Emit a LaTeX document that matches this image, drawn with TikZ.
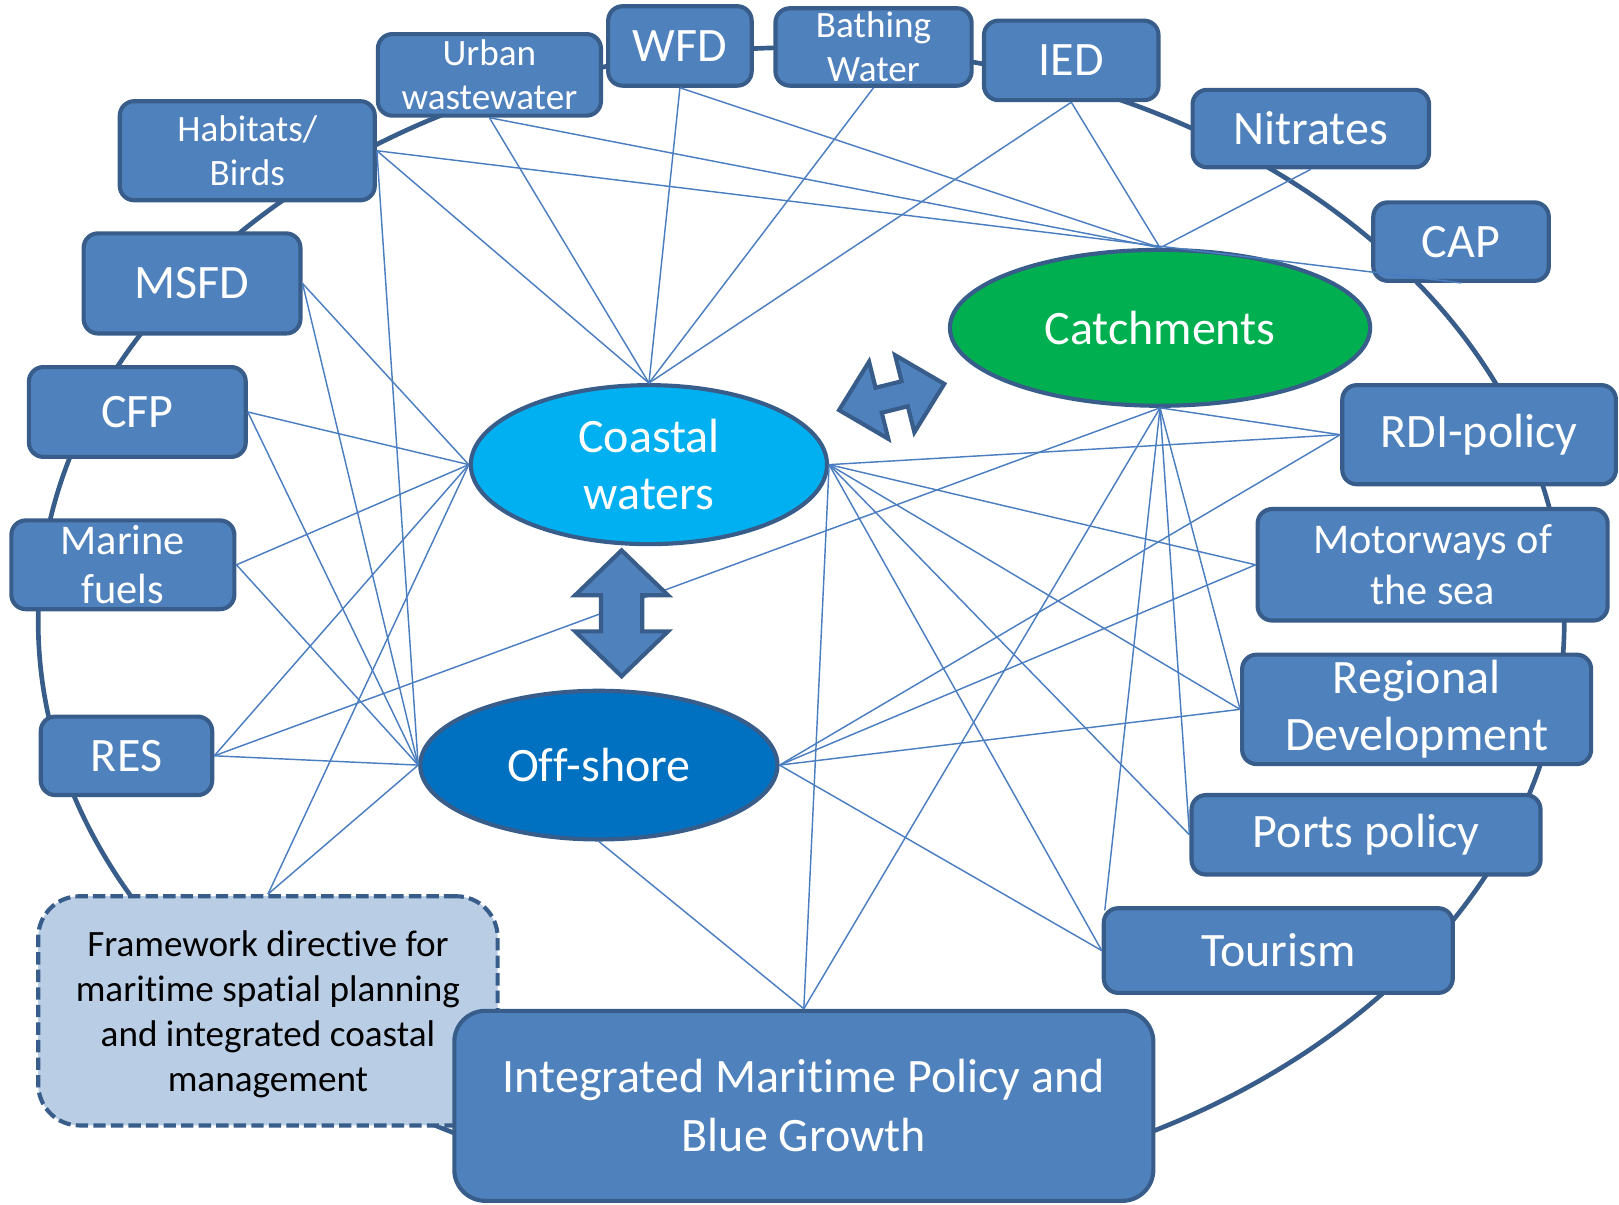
\documentclass[tikz,border=0pt]{standalone}
\usepackage{fontspec}
\setmainfont{Carlito}[Ligatures=NoCommon]
\usetikzlibrary{calc,shapes.geometric}
\definecolor{boxblue}{RGB}{79,129,189}
\definecolor{boxedge}{RGB}{56,93,138}
\definecolor{linkblue}{RGB}{74,126,193}
\definecolor{catchgreen}{RGB}{0,176,80}
\definecolor{coastblue}{RGB}{0,176,240}
\definecolor{offblue}{RGB}{0,112,192}
\definecolor{framefill}{RGB}{185,205,229}
\tikzset{
  ring/.style={draw=boxedge, line width=4.5pt},
  policy/.style={draw=boxedge, fill=boxblue, line width=4pt, rounded corners=14pt,
    text=white, align=center, inner sep=0pt},
  area/.style={draw=boxedge, ellipse, line width=4pt, text=white, align=center, inner sep=0pt},
  link/.style={draw=linkblue, line width=1.4pt},
  bigarrow/.style={draw=boxedge, fill=boxblue, line width=4pt, line join=miter},
  fbig/.style={font=\fontsize{46.5pt}{55pt}\selectfont},
  fmid/.style={font=\fontsize{41pt}{49.4pt}\selectfont},
  fmar/.style={font=\fontsize{41pt}{48pt}\selectfont},
  fsmall/.style={font=\fontsize{36pt}{42.7pt}\selectfont},
  fimp/.style={font=\fontsize{46.5pt}{57pt}\selectfont},
  fframe/.style={font=\fontsize{36pt}{43.6pt}\selectfont},
}
\begin{document}
\begin{tikzpicture}[x=1pt,y=-1pt]
\useasboundingbox (0,0) rectangle (1568,1167);
% background ring
\draw[ring] (776,602) ellipse [x radius=739pt, y radius=556pt];

% policy boxes
\node[policy,fsmall,minimum width=247pt,minimum height=96pt] (hab) at (239.5,146) {Habitats/\\Birds};
\node[policy,fsmall,minimum width=216pt,minimum height=79pt] (urb) at (474,72.5) {Urban\\wastewater};
\node[policy,fbig,minimum width=139pt,minimum height=77pt] (wfd) at (658.5,44.5) {WFD};
\node[policy,fsmall,minimum width=190pt,minimum height=75pt] (bath) at (846,45.5) {Bathing\\Water};
\node[policy,fbig,minimum width=169pt,minimum height=77pt] (ied) at (1037.5,58.5) {IED};
\node[policy,fbig,minimum width=229pt,minimum height=75pt] (nit) at (1269.5,124.5) {Nitrates};
\node[policy,fbig,minimum width=170pt,minimum height=76pt] (cap) at (1415,234) {CAP};
\node[policy,fbig,minimum width=210pt,minimum height=97pt] (msfd) at (186,274.5) {MSFD};
\node[policy,fbig,minimum width=210pt,minimum height=87pt] (cfp) at (133,399) {CFP};
\node[policy,fmar,minimum width=216pt,minimum height=86pt] (mar) at (119,547) {Marine\\fuels};
\node[policy,fbig,minimum width=166pt,minimum height=76pt] (res) at (122.5,732) {RES};
\node[policy,fbig,minimum width=265pt,minimum height=96pt] (rdi) at (1432.5,421) {RDI-policy};
\node[policy,fmid,minimum width=339pt,minimum height=108pt] (mot) at (1387.5,547) {Motorways of\\the sea};
\node[policy,fbig,minimum width=338pt,minimum height=106pt] (reg) at (1372,687) {Regional\\Development};
\node[policy,fbig,minimum width=338pt,minimum height=77pt] (ports) at (1323,808.5) {Ports policy};
\node[policy,fbig,minimum width=338pt,minimum height=82pt] (tour) at (1238,920.6) {Tourism};
\node[policy,draw=boxedge,fill=framefill,text=black,dashed,dash pattern=on 12pt off 5pt,
  rounded corners=40pt,fframe,text depth=0pt,minimum width=445pt,minimum height=222pt] (frame) at (259.5,979)
  {Framework directive for\\maritime spatial planning\\and integrated coastal\\management};
\node[policy,fimp,rounded corners=30pt,minimum width=677pt,minimum height=184pt] (imp) at (778.5,1071)
  {Integrated Maritime Policy and\\Blue Growth};

% areas
\node[area,fill=coastblue,fbig,minimum width=345pt,minimum height=154pt] (coast) at (628.5,450) {Coastal\\waters};
\node[area,fill=catchgreen,fbig,minimum width=407pt,minimum height=151pt] (catch) at (1123.5,317.5) {Catchments};
\node[area,fill=offblue,fbig,minimum width=346pt,minimum height=144pt] (off) at (580,741) {Off-shore};

% links from the top
\draw[link] (hab.east) -- (coast.north);
\draw[link] (hab.east) -- (off.west);
\draw[link] (hab.east) -- (cap.south);
\draw[link] (urb.south) -- (coast.north);
\draw[link] (urb.south) -- (catch.north);
\draw[link] (wfd.south) -- (coast.north);
\draw[link] (wfd.south) -- (catch.north);
\draw[link] (bath.south) -- (coast.north);
\draw[link] (ied.south) -- (coast.north);
\draw[link] (ied.south) -- (catch.north);
\draw[link] (nit.south) -- (catch.north);
% links from the left
\draw[link] (msfd.east) -- (coast.west);
\draw[link] (msfd.east) -- (off.west);
\draw[link] (cfp.east) -- (coast.west);
\draw[link] (cfp.east) -- (off.west);
\draw[link] (mar.east) -- (coast.west);
\draw[link] (mar.east) -- (off.west);
\draw[link] (res.east) -- (coast.west);
\draw[link] (res.east) -- (off.west);
\draw[link] (res.east) -- (catch.south);
\draw[link] (frame.north) -- (coast.west);
\draw[link] (frame.north) -- (off.west);
% links to the right
\draw[link] (coast.east) -- (rdi.west);
\draw[link] (coast.east) -- (mot.west);
\draw[link] (coast.east) -- (reg.west);
\draw[link] (coast.east) -- (ports.west);
\draw[link] (coast.east) -- (tour.west);
\draw[link] (coast.east) -- (imp.north);
\draw[link] (catch.south) -- (rdi.west);
\draw[link] (catch.south) -- (reg.west);
\draw[link] (catch.south) -- (ports.west);
\draw[link] (catch.south) -- ($(tour.north west)+(3,4)$);
\draw[link] (catch.south) -- (imp.north);
\draw[link] (off.east) -- (rdi.west);
\draw[link] (off.east) -- (mot.west);
\draw[link] (off.east) -- (reg.west);
\draw[link] (off.east) -- (tour.west);
\draw[link] (off.south) -- (imp.north);

% double arrows
\begin{scope}[shift={(602,594)}]
\draw[bigarrow] (0,-61) -- (45,-17.5) -- (20,-17.5) -- (20,17.5) -- (45,17.5) -- (0,61)
  -- (-45,17.5) -- (-20,17.5) -- (-20,-17.5) -- (-45,-17.5) -- cycle;
\end{scope}
\begin{scope}[shift={(863.6,384.5)},rotate=14]
\draw[bigarrow] (-52.5,0) -- (-13,38.5) -- (-13,12.5) -- (13,12.5) -- (13,38.5) -- (52.5,0)
  -- (13,-38.5) -- (13,-12.5) -- (-13,-12.5) -- (-13,-38.5) -- cycle;
\end{scope}
\end{tikzpicture}
\end{document}
